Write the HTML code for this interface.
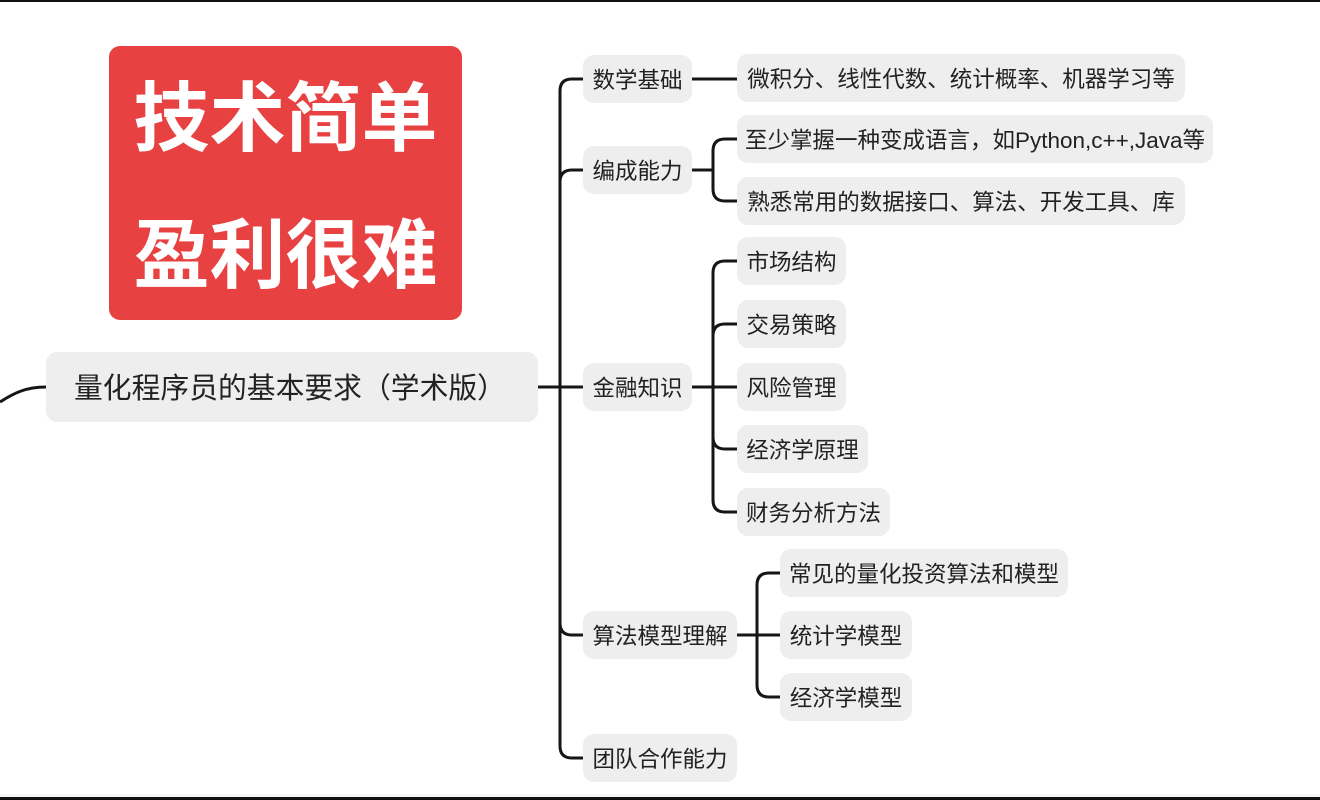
<!DOCTYPE html>
<html><head><meta charset="utf-8">
<style>
html,body{margin:0;padding:0;}
body{width:1320px;height:800px;position:relative;overflow:hidden;background:#fff;font-family:"Liberation Sans","Noto Sans CJK SC",sans-serif;}
.n{position:absolute;background:#eeeeee;border-radius:11px;color:#222;font-size:22.5px;text-align:center;white-space:nowrap;height:48px;line-height:52px;overflow:hidden;}
.red{position:absolute;left:109px;top:46px;width:353px;height:274px;background:#e84142;border-radius:11px;}
.red div{position:absolute;left:0;width:353px;text-align:center;color:#fff;font-weight:bold;font-size:76px;line-height:76px;font-family:"Noto Sans CJK SC",sans-serif;}
</style></head><body>
<div style="position:absolute;left:0;top:0;width:1320px;height:2px;background:#111;"></div>
<div style="position:absolute;left:0;top:794px;width:1320px;height:3px;background:#f6f6f6;"></div>
<div style="position:absolute;left:0;top:797px;width:1320px;height:3px;background:#111;"></div>

<div class="red"><div style="top:28px;">技术简单</div><div style="top:165px;">盈利很难</div></div>

<svg width="1320" height="800" style="position:absolute;left:0;top:0;" fill="none" stroke="#161616" stroke-width="3" stroke-linecap="butt">
<path d="M0,402 C14,393 26,387 46,387"/>
<path d="M538,387 H583"/>
<path d="M583,79 H572 Q560,79 560,91 V746 Q560,758 572,758 H583"/>
<path d="M560,182 Q560,170 572,170 H583"/>
<path d="M560,623 Q560,635 572,635 H583"/>
<path d="M692,79 H737"/>
<path d="M692,170 H713"/>
<path d="M737,139 H725 Q713,139 713,151 V189 Q713,201 725,201 H737"/>
<path d="M692,387 H737"/>
<path d="M737,261 H725 Q713,261 713,273 V500 Q713,512 725,512 H737"/>
<path d="M713,336 Q713,324 725,324 H737"/>
<path d="M713,437 Q713,449 725,449 H737"/>
<path d="M737,635 H780"/>
<path d="M780,573 H769 Q757,573 757,585 V685 Q757,697 769,697 H780"/>
</svg>

<div class="n" style="left:46px;top:352px;width:492px;height:70px;line-height:74px;font-size:28.8px;text-align:left;"><span style="position:absolute;left:28px;">量化程序员的基本要求（学术版）</span></div>

<div class="n" style="left:583px;top:55px;width:109px;">数学基础</div>
<div class="n" style="left:583px;top:146px;width:109px;">编成能力</div>
<div class="n" style="left:583px;top:363px;width:109px;">金融知识</div>
<div class="n" style="left:583px;top:611px;width:154px;">算法模型理解</div>
<div class="n" style="left:583px;top:734px;width:154px;">团队合作能力</div>

<div class="n" style="left:737px;top:54px;width:448px;">微积分、线性代数、统计概率、机器学习等</div>
<div class="n" style="left:737px;top:115px;width:476px;">至少掌握一种变成语言，如Python,c++,Java等</div>
<div class="n" style="left:737px;top:177px;width:448px;">熟悉常用的数据接口、算法、开发工具、库</div>

<div class="n" style="left:737px;top:237px;width:109px;">市场结构</div>
<div class="n" style="left:737px;top:300px;width:109px;">交易策略</div>
<div class="n" style="left:737px;top:363px;width:109px;">风险管理</div>
<div class="n" style="left:737px;top:425px;width:131px;">经济学原理</div>
<div class="n" style="left:737px;top:488px;width:153px;">财务分析方法</div>

<div class="n" style="left:780px;top:549px;width:288px;">常见的量化投资算法和模型</div>
<div class="n" style="left:780px;top:611px;width:132px;">统计学模型</div>
<div class="n" style="left:780px;top:673px;width:132px;">经济学模型</div>
</body></html>
